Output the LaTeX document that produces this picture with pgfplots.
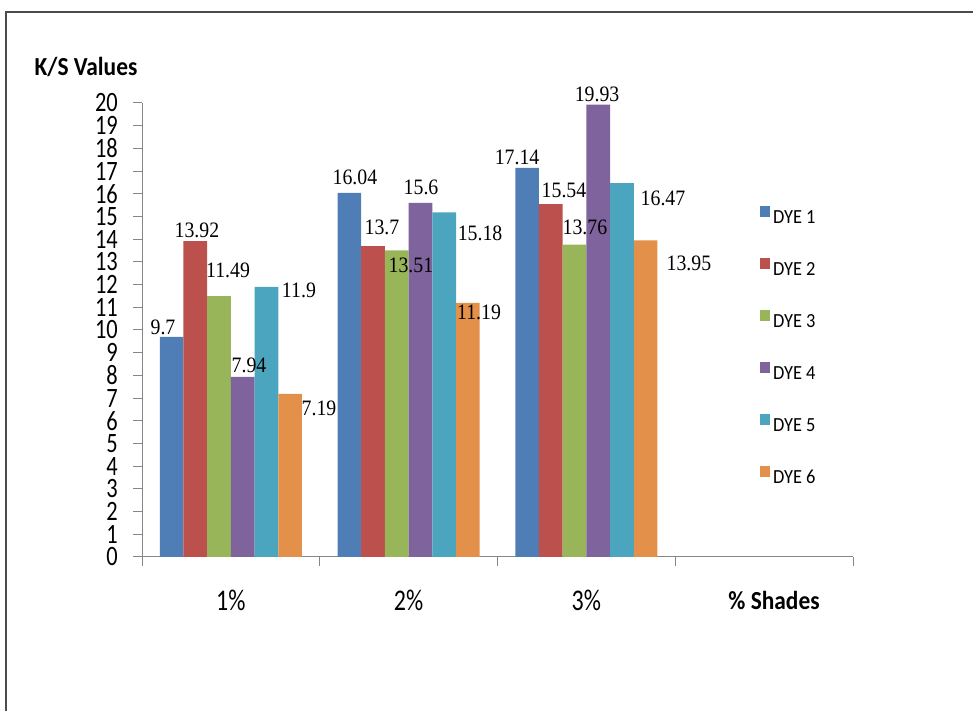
\documentclass[border=0pt]{standalone}
\usepackage{fontspec}
\setmainfont{Carlito}
\newfontfamily\tickfont[FakeStretch=0.8]{Carlito}
\newfontfamily\titfont[FakeStretch=0.9]{Carlito}
\newfontfamily\labfont[FakeStretch=0.9]{Liberation Serif}
\newfontfamily\legfont[FakeStretch=0.92]{Carlito}
\usepackage{pgfplots}
\pgfplotsset{compat=1.18}

\definecolor{dyeA}{HTML}{4F7DB6}
\definecolor{dyeB}{HTML}{BC504C}
\definecolor{dyeC}{HTML}{98B55A}
\definecolor{dyeD}{HTML}{7E639C}
\definecolor{dyeE}{HTML}{4BA5BF}
\definecolor{dyeF}{HTML}{E2904A}
\definecolor{axgray}{HTML}{868686}

\begin{document}
\begin{tikzpicture}[x=1pt,y=1pt]
  \path[use as bounding box] (0,0) rectangle (973,711);
  % chart frame (cut at right and bottom)
  \draw[line width=2pt, black!70] (6,0) -- (6,699) -- (973,699);

  \begin{axis}[
      at={(142pt,154pt)}, anchor=south west,
      scale only axis, width=711pt, height=454pt,
      ybar, clip=false,
      xmin=-0.5, xmax=3.5, ymin=0, ymax=20,
      ytick={0,1,...,20},
      xtick={-0.5,0.5,1.5,2.5,3.5},
      x tick label as interval,
      xticklabels={1\%,2\%,3\%,{}},
      /pgf/number format/assume math mode=true,
      axis x line*=bottom, axis y line*=left,
      axis line style={draw=axgray, line width=1pt},
      tick style={draw=axgray, line width=1pt},
      tick align=outside, major tick length=9pt,
      yticklabel style={font=\tickfont\fontsize{28}{28}\selectfont, anchor=east, inner sep=0pt, xshift=-15pt},
      xticklabel style={font=\tickfont\fontsize{30}{30}\selectfont, anchor=center, inner sep=0pt, yshift=-34pt},
      legend style={at={(axis description cs:0.869,0.774)}, anchor=north west,
        draw=none, fill=none, inner sep=0pt, row sep=34pt, column sep=3pt,
        nodes={inner sep=0pt, text height=14pt, text depth=0pt,
          font=\legfont\fontsize{20}{20}\selectfont}},
      legend cell align=left,
      legend image code/.code={\fill[#1] (0pt,0pt) rectangle (10pt,11pt);},
      every axis plot/.append style={draw=none},
    ]
    \addplot[fill=dyeA, bar width=0.1333, bar shift=-0.3333] coordinates {(0,9.7) (1,16.04) (2,17.14)};
    \addlegendentry{DYE 1}
    \addplot[fill=dyeB, bar width=0.1333, bar shift=-0.2] coordinates {(0,13.92) (1,13.7) (2,15.54)};
    \addlegendentry{DYE 2}
    \addplot[fill=dyeC, bar width=0.1333, bar shift=-0.0667] coordinates {(0,11.49) (1,13.51) (2,13.76)};
    \addlegendentry{DYE 3}
    \addplot[fill=dyeD, bar width=0.1333, bar shift=0.0667] coordinates {(0,7.94) (1,15.6) (2,19.93)};
    \addlegendentry{DYE 4}
    \addplot[fill=dyeE, bar width=0.1333, bar shift=0.2] coordinates {(0,11.9) (1,15.18) (2,16.47)};
    \addlegendentry{DYE 5}
    \addplot[fill=dyeF, bar width=0.1333, bar shift=0.3333] coordinates {(0,7.19) (1,11.19) (2,13.95)};
    \addlegendentry{DYE 6}

    % data labels, where the chart put them
    \begin{scope}[every node/.style={font=\labfont\fontsize{22}{22}\selectfont, inner sep=0pt}]
      \node at (axis cs:-0.382,10.13) {9.7};
      \node at (axis cs:-0.191,14.41) {13.92};
      \node at (axis cs:-0.016,12.64) {11.49};
      \node at (axis cs:0.102,8.46) {7.94};
      \node at (axis cs:0.383,11.76) {11.9};
      \node at (axis cs:0.496,6.56) {7.19};
      \node at (axis cs:0.698,16.74) {16.04};
      \node at (axis cs:0.850,14.54) {13.7};
      \node at (axis cs:1.013,12.86) {13.51};
      \node at (axis cs:1.070,16.30) {15.6};
      \node at (axis cs:1.402,14.27) {15.18};
      \node at (axis cs:1.396,10.79) {11.19};
      \node at (axis cs:1.610,17.62) {17.14};
      \node at (axis cs:1.874,16.17) {15.54};
      \node at (axis cs:1.992,14.54) {13.76};
      \node at (axis cs:2.060,20.40) {19.93};
      \node at (axis cs:2.431,15.81) {16.47};
      \node at (axis cs:2.577,12.95) {13.95};
    \end{scope}
  \end{axis}

  \node[font=\titfont\bfseries\fontsize{26}{26}\selectfont, inner sep=0pt] at (86,644) {K/S Values};
  \node[font=\titfont\bfseries\fontsize{26}{26}\selectfont, inner sep=0pt] at (774,111) {\% Shades};
\end{tikzpicture}
\end{document}
